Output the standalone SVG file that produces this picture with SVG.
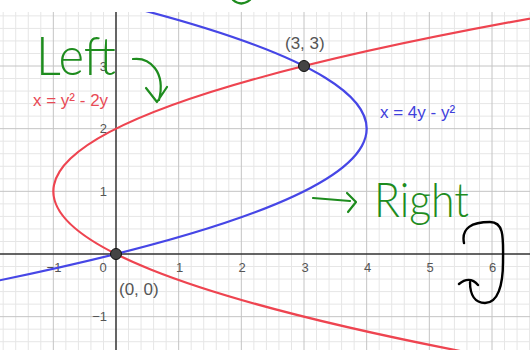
<svg xmlns="http://www.w3.org/2000/svg" width="530" height="350" viewBox="0 0 530 350">
<style>
.minor{stroke:#e6e6e6;stroke-width:1;fill:none}
.major{stroke:#c4c4c4;stroke-width:1;fill:none}
.axis{stroke:#333;stroke-width:1.5;fill:none}
.tick{font-family:"Liberation Sans",Arial,sans-serif;font-size:13px;fill:#555}
.plabel{font-family:"Liberation Sans",Arial,sans-serif;font-size:17px;fill:#555}
.eq{font-family:"Liberation Sans",Arial,sans-serif;font-size:17px}
.hand{font-family:Lato,"DejaVu Sans",sans-serif;font-weight:300;fill:#1e8c1e}
.ink{fill:none;stroke:#1e8c1e;stroke-width:2.2;stroke-linecap:round;stroke-linejoin:round}
</style>
<defs>
<clipPath id="plot"><rect x="0" y="12" width="530" height="338"/></clipPath>
</defs>
<rect x="0" y="0" width="530" height="350" fill="#fff"/>
<g id="grid" clip-path="url(#plot)">
<path class="minor" d="M3.2 12V350M15.73 12V350M28.27 12V350M40.8 12V350M65.87 12V350M78.4 12V350M90.93 12V350M103.47 12V350M128.53 12V350M141.07 12V350M153.6 12V350M166.13 12V350M191.2 12V350M203.73 12V350M216.27 12V350M228.8 12V350M253.87 12V350M266.4 12V350M278.93 12V350M291.47 12V350M316.53 12V350M329.07 12V350M341.6 12V350M354.13 12V350M379.2 12V350M391.73 12V350M404.27 12V350M416.8 12V350M441.87 12V350M454.4 12V350M466.93 12V350M479.47 12V350M504.53 12V350M517.07 12V350M529.6 12V350
M0 341.73H530M0 329.2H530M0 304.13H530M0 291.6H530M0 279.07H530M0 266.53H530M0 241.47H530M0 228.93H530M0 216.4H530M0 203.87H530M0 178.8H530M0 166.27H530M0 153.73H530M0 141.2H530M0 116.13H530M0 103.6H530M0 91.07H530M0 78.53H530M0 53.47H530M0 40.93H530M0 28.4H530M0 15.87H530"/>
<path class="major" d="M53.33 12V350M178.67 12V350M241.33 12V350M304 12V350M366.67 12V350M429.33 12V350M492 12V350M0 316.67H530M0 191.33H530M0 128.67H530M0 66H530"/>
</g>
<g id="axes">
<path class="axis" d="M0 254H530M116 12V350"/>
<text class="tick" x="54" y="272" text-anchor="middle">−1</text>
<text class="tick" x="103" y="272" text-anchor="middle">0</text>
<text class="tick" x="179.5" y="272" text-anchor="middle">1</text>
<text class="tick" x="242" y="272" text-anchor="middle">2</text>
<text class="tick" x="305" y="272" text-anchor="middle">3</text>
<text class="tick" x="367.5" y="272" text-anchor="middle">4</text>
<text class="tick" x="430" y="272" text-anchor="middle">5</text>
<text class="tick" x="492.5" y="272" text-anchor="middle">6</text>
<text class="tick" x="107" y="321" text-anchor="end">−1</text>
<text class="tick" x="107" y="196" text-anchor="end">1</text>
<text class="tick" x="107" y="133" text-anchor="end">2</text>
<text class="tick" x="107" y="71" text-anchor="end">3</text>
</g>
<g id="curves" clip-path="url(#plot)">
<path id="blue-curve" d="M-9.5 282.2Q658.4 145.9 140.4 9.6" fill="none" stroke="#4646e6" stroke-width="2.2"/>
<path id="red-curve" d="M477 354.3Q-402.9 185.1 544.7 15.9" fill="none" stroke="#ee4450" stroke-width="2.2"/>
</g>
<g id="points">
<circle cx="116" cy="254" r="5.5" fill="#444" stroke="#111" stroke-width="1"/>
<circle cx="304" cy="66" r="5.5" fill="#444" stroke="#111" stroke-width="1"/>
<text class="plabel" x="285" y="49">(3, 3)</text>
<text class="plabel" x="119" y="295">(0, 0)</text>
</g>
<g id="labels">
<text class="eq" x="33" y="106" fill="#e84a55">x = y² - 2y</text>
<text class="eq" x="380" y="118" fill="#4040dc">x = 4y - y²</text>
</g>
<g id="annotations">
<text class="hand" x="36" y="75" font-size="54" textLength="80" lengthAdjust="spacingAndGlyphs">Left</text>
<path class="ink" d="M133 59C150 57 166 72 159 100M146 88L157 102L167 87"/>
<text class="hand" x="374" y="217" font-size="48" textLength="95" lengthAdjust="spacingAndGlyphs">Right</text>
<path class="ink" d="M313 198L350 201M347 193L356 202L348 212"/>
<path class="ink" d="M233 0Q241 7 250 0"/>
<path d="M464 243C461 228 472 222 490 222C505 222 503 240 503 262C503 285 498 303 485 303C475 303 470 295 470 282M459 284C465 279 472 278 478 285" fill="none" stroke="#000" stroke-width="2.4" stroke-linecap="round" stroke-linejoin="round"/>
</g>
</svg>
